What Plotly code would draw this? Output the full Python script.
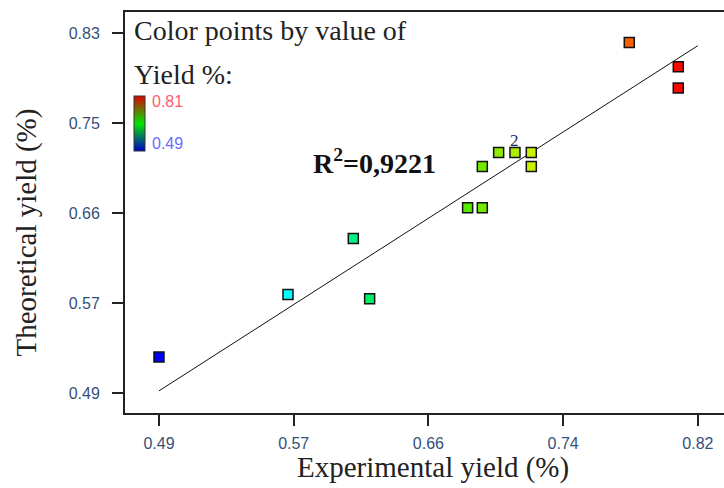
import numpy as np
import plotly.graph_objects as go

# ---- data ----
experimental = [0.490, 0.569, 0.609, 0.619, 0.679, 0.688, 0.688, 0.698, 0.708, 0.718, 0.718, 0.778, 0.808, 0.808]
theoretical  = [0.524, 0.583, 0.636, 0.579, 0.665, 0.665, 0.704, 0.717, 0.717, 0.717, 0.704, 0.821, 0.798, 0.778]
fit_x = [0.49, 0.82]
fit_y = [0.492, 0.818]
x_ticks = list(np.linspace(0.49, 0.82, 5))
y_ticks = list(np.linspace(0.49, 0.83, 5))
x_ticktext = ["0.49", "0.57", "0.66", "0.74", "0.82"]
y_ticktext = ["0.49", "0.57", "0.66", "0.75", "0.83"]
cmin, cmax = 0.49, 0.81
dup_x, dup_y = 0.708, 0.717  # duplicated point (labelled "2")

point_scale = [[0, "rgb(0,0,255)"], [0.25, "rgb(0,255,255)"], [0.5, "rgb(0,230,0)"],
               [0.75, "rgb(240,240,0)"], [1, "rgb(255,0,0)"]]
bar_scale = [[0, "rgb(0,0,200)"], [0.5, "rgb(0,230,0)"], [1, "rgb(220,0,0)"]]

serif = "Liberation Serif, Times New Roman, serif"
sans = "Liberation Sans, Arial, sans-serif"
tick_color = "#34507a"

fig = go.Figure()
fig.add_trace(go.Scatter(x=fit_x, y=fit_y, mode="lines",
                         line=dict(color="#111", width=1), hoverinfo="skip", showlegend=False))
fig.add_trace(go.Scatter(
    x=experimental, y=theoretical, mode="markers", showlegend=False,
    marker=dict(symbol="square", size=10, color=experimental, colorscale=point_scale,
                cmin=cmin, cmax=cmax, showscale=False,
                line=dict(color="#111", width=1.5))))
# colorbar only
fig.add_trace(go.Scatter(
    x=[None], y=[None], mode="markers", showlegend=False,
    marker=dict(color=[cmin], colorscale=bar_scale, cmin=cmin, cmax=cmax, showscale=True,
                colorbar=dict(x=0.015, xanchor="left", y=0.722, yanchor="middle",
                              thickness=11, thicknessmode="pixels", len=55, lenmode="pixels",
                              outlinewidth=1, outlinecolor="#333", xpad=0, ypad=0,
                              showticklabels=False, ticks=""))))

axis_common = dict(showgrid=False, zeroline=False, showline=True, linecolor="#222", linewidth=2,
                   ticks="outside", ticklen=11, tickwidth=1.5, tickcolor="#222",
                   tickfont=dict(family=sans, size=16, color=tick_color))
fig.update_xaxes(range=[0.4692, 0.836], tickvals=x_ticks, ticktext=x_ticktext, mirror=True,
                 ticklabelstandoff=4, **axis_common)
fig.update_yaxes(range=[0.4711, 0.8498], tickvals=y_ticks, ticktext=y_ticktext, mirror=False,
                 ticklabelstandoff=9, **axis_common)

ann = [
    dict(text="Color points by value of", x=0.0117, y=0.955, xanchor="left", yanchor="middle",
         font=dict(family=serif, size=28, color="#222")),
    dict(text="Yield %:", x=0.0117, y=0.843, xanchor="left", yanchor="middle",
         font=dict(family=serif, size=28, color="#222")),
    dict(text="0.81", x=0.0417, y=0.778, xanchor="left", yanchor="middle",
         font=dict(family=sans, size=16, color="#ff5a6e")),
    dict(text="0.49", x=0.0417, y=0.671, xanchor="left", yanchor="middle",
         font=dict(family=sans, size=16, color="#6a6aff")),
    dict(text="<b>R<sup>2</sup>=0,9221</b>", x=0.417, y=0.626, xanchor="center", yanchor="middle",
         font=dict(family=serif, size=28, color="#111")),
    dict(text="Experimental yield (%)", x=0.514, y=-0.137, xanchor="center", yanchor="middle",
         font=dict(family=serif, size=29, color="#222")),
    dict(text="Theoretical yield (%)", x=-0.1636, y=0.45, xanchor="center", yanchor="middle",
         textangle=-90, font=dict(family=serif, size=29, color="#222")),
]
for a in ann:
    a.update(xref="paper", yref="paper", showarrow=False)
    fig.add_annotation(**a)
fig.add_annotation(x=dup_x, y=dup_y, xref="x", yref="y", text="2", showarrow=False,
                   yshift=12, font=dict(family=serif, size=17, color="#1a2a5a"))

fig.update_layout(width=724, height=488, margin=dict(l=125, r=0, t=12, b=75),
                  plot_bgcolor="white", paper_bgcolor="white")
fig.write_html("out.html")
